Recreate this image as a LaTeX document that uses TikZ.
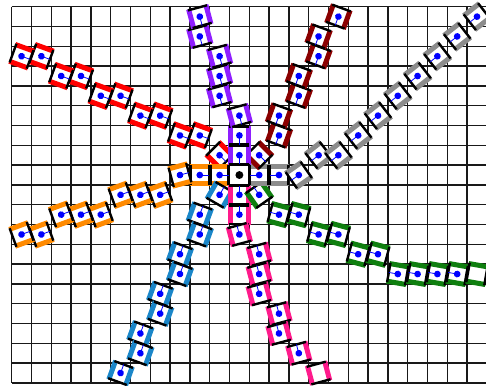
\documentclass[tikz,border=0pt]{standalone}
\usepackage{tikz}
\definecolor{armred}{HTML}{FF0000}
\definecolor{armorange}{HTML}{FF8A00}
\definecolor{armpurple}{HTML}{8F1EFF}
\definecolor{armmaroon}{HTML}{8B0000}
\definecolor{armgray}{HTML}{8C8C8C}
\definecolor{armgreen}{HTML}{0F7F0F}
\definecolor{armpink}{HTML}{FF1A8C}
\definecolor{armblue}{HTML}{1B87C9}
\tikzset{
  gridline/.style={draw=black!90,line width=1.3pt},
  hubbox/.style={draw=black,fill=white,line width=1.8pt},
  modbody/.style={draw=black,fill=white,line width=0.8pt},
  modside/.style={line width=5pt},
  modjoint/.style={draw=black,line width=2.4pt},
  moddot/.style={fill=blue},
  modstub/.style={draw=blue,line width=0.8pt},
}
% one link of an arm: column, row, heading, colour
\newcommand{\armlink}[4]{%
  \begin{scope}[shift={(#1+0.5,-#2-0.5)},rotate=#3]
    \filldraw[modbody] (-0.46,-0.46) rectangle (0.46,0.46);
    \draw[modside,#4] (-0.5,0.45)--(0.5,0.45) (-0.5,-0.45)--(0.5,-0.45);
    \draw[modjoint] (-0.46,-0.5)--(-0.46,0.5) (0.46,-0.5)--(0.46,0.5);
    \draw[modstub] (0,0)--(-0.46,0);
    \fill[moddot] (0,0) circle (0.17);
  \end{scope}}
% last link without the dot
\newcommand{\armtip}[4]{%
  \begin{scope}[shift={(#1+0.5,-#2-0.5)},rotate=#3]
    \filldraw[modbody] (-0.46,-0.46) rectangle (0.46,0.46);
    \draw[modside,#4] (-0.5,0.45)--(0.5,0.45) (-0.5,-0.45)--(0.5,-0.45);
    \draw[modjoint] (-0.46,-0.5)--(-0.46,0.5) (0.46,-0.5)--(0.46,0.5);
  \end{scope}}

\begin{document}
\begin{tikzpicture}[x=19.8pt,y=19.8pt]
  \useasboundingbox (-0.59,0.34) rectangle (23.955,-19.106);
  \clip (-0.59,0.34) rectangle (23.955,-19.106);

  % Grid
  \foreach \x in {0,...,24}{
    \draw[gridline] (\x,0)--(\x,-19);
  }
  \foreach \y in {0,...,19}{
    \draw[gridline] (0,-\y)--(24,-\y);
  }

  % Arms (column/row/heading)
  \foreach \c/\r/\a in {10/7/135,9/6/160,8/6/160,7/5/160,6/5/160,5/4/160,
                        4/4/160,3/3/160,2/3/160,1/2/160,0/2/160}{
    \armlink{\c}{\r}{\a}{armred}
  }
  \foreach \c/\r/\a in {10/8/180,9/8/180,8/8/195,7/9/200,6/9/200,5/9/200,
                        4/10/200,3/10/200,2/10/200,1/11/200,0/11/200}{
    \armlink{\c}{\r}{\a}{armorange}
  }
  \foreach \c/\r/\a in {10/9/240,9/10/250,9/11/250,8/12/250,8/13/250,
                        7/14/250,7/15/250,6/16/250,6/17/250,5/18/250}{
    \armlink{\c}{\r}{\a}{armblue}
  }
  \foreach \c/\r/\a in {11/9/270,11/10/270,11/11/285,12/12/285,12/13/285,
                        12/14/285,13/15/285,13/16/285,14/17/285}{
    \armlink{\c}{\r}{\a}{armpink}
  }
  \armtip{15}{18}{285}{armpink}
  \foreach \c/\r/\a in {12/9/-55,13/10/-15,14/10/-15,15/11/-15,16/11/-15,
                        17/12/-15,18/12/-15,19/13/-10,20/13/-10,21/13/-10,
                        22/13/-10}{
    \armlink{\c}{\r}{\a}{armgreen}
  }
  \armtip{23}{13}{-10}{armgreen}
  \foreach \c/\r/\a in {12/8/0,13/8/0,14/8/35,15/7/38,16/7/38,17/6/38,
                        18/5/38,19/4/38,20/3/38,21/2/38,22/1/38,23/0/38}{
    \armlink{\c}{\r}{\a}{armgray}
  }
  \foreach \c/\r/\a in {12/7/135,13/6/70,13/5/70,14/4/70,14/3/70,15/2/70,
                        15/1/70,16/0/70}{
    \armlink{\c}{\r}{\a}{armmaroon}
  }
  \foreach \c/\r/\a in {11/7/90,11/6/90,11/5/105,10/4/105,10/3/105,
                        10/2/105,9/1/105,9/0/105}{
    \armlink{\c}{\r}{\a}{armpurple}
  }

  % Hub
  \draw[hubbox] (11,-8) rectangle (12,-9);
  \fill[black] (11.5,-8.5) circle (0.2);
\end{tikzpicture}
\end{document}
